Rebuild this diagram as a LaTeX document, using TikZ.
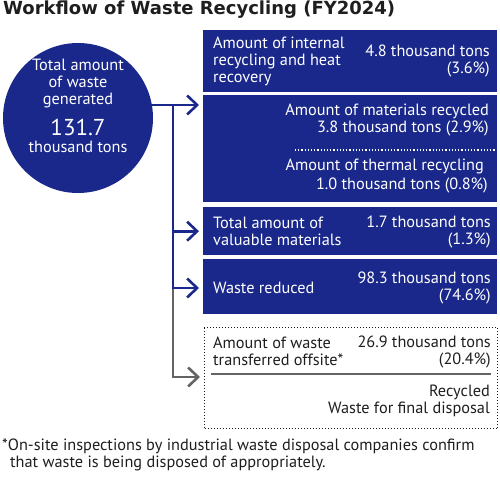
\documentclass[tikz,border=0pt]{standalone}
\usepackage{fontspec}
\setmainfont{PT Sans}
\newfontfamily\titlefont{DejaVu Sans}
\usetikzlibrary{arrows.meta}
\definecolor{navy}{RGB}{25,40,138}
\definecolor{lgray}{RGB}{100,100,100}
\definecolor{ink}{RGB}{30,30,30}
\tikzset{
  bluebox/.style={draw=none, fill=navy, anchor=north west, inner sep=0pt},
  txt/.style={inner sep=0pt, font=\fontsize{16.3}{17}\selectfont},
  wtxt/.style={txt, text=white},
  ktxt/.style={txt, text=ink},
  flow/.style={line width=2.6pt, draw=navy},
  gflow/.style={line width=2.6pt, draw=lgray},
  tip/.style={-{Straight Barb[length=10pt,width=19pt]}},
}
\begin{document}
\begin{tikzpicture}[x=1pt,y=-1pt]
\useasboundingbox (0,0) rectangle (500,477);
% title
\node[anchor=west, inner sep=0pt, font=\titlefont\bfseries\fontsize{18}{20}\selectfont, text=ink] (title) at (3,10) {Workflow of Waste Recycling (FY2024)};
% circle
\node[circle, fill=navy, minimum size=150pt, inner sep=0pt] (circ) at (78,118) {};
\node[wtxt, align=center] (ctxt) at (78,84) {Total amount\\of waste\\generated};
\node[wtxt, align=center, font=\fontsize{23}{24}\selectfont] (cnum) at (78,127) {131.7};
\node[wtxt, align=center] (cunit) at (78,147) {thousand tons};
% boxes
\node[bluebox, minimum width=294pt, minimum height=62pt] (b1) at (203,30) {};
\node[bluebox, minimum width=294pt, minimum height=107pt] (b2) at (203,95) {};
\node[bluebox, minimum width=294pt, minimum height=48pt] (b3) at (203,207) {};
\node[bluebox, minimum width=294pt, minimum height=55pt] (b4) at (203,259) {};
\node[draw=ink, dotted, line width=1pt, anchor=north west, inner sep=0pt, minimum width=293pt, minimum height=101pt] (b5) at (204,327) {};
% box 1 texts
\node[wtxt, anchor=west, align=left] (t1l) at (213,61.5) {Amount of internal\\recycling and heat\\recovery};
\node[wtxt, anchor=east, align=right] (t1r) at (490,60.5) {4.8 thousand tons\\(3.6\%)};
% box 2 texts
\node[wtxt, anchor=east, align=right] (t2a) at (489,120) {Amount of materials recycled\\3.8 thousand tons (2.9\%)};
\coordinate (d0) at (295,150);
\coordinate (d1) at (497,150);
\draw[white, dotted, line width=1.2pt] (d0) -- (d1);
\node[wtxt, anchor=east] (t2b) at (484,166) {Amount of thermal recycling};
\node[wtxt, anchor=east] (t2c) at (488,185) {1.0 thousand tons (0.8\%)};
% box 3
\node[wtxt, anchor=west, align=left] (t3l) at (213,231.5) {Total amount of\\valuable materials};
\node[wtxt, anchor=east, align=right] (t3r) at (491,231.5) {1.7 thousand tons\\(1.3\%)};
% box 4
\node[wtxt, anchor=west] (t4l) at (213,288) {Waste reduced};
\node[wtxt, anchor=east, align=right] (t4r) at (491,287.5) {98.3 thousand tons\\(74.6\%)};
% box 5
\node[ktxt, anchor=west, align=left] (t5l) at (213,351.5) {Amount of waste\\transferred offsite*};
\node[ktxt, anchor=east, align=right] (t5r) at (491,351.5) {26.9 thousand tons\\(20.4\%)};
\coordinate (s0) at (211,374);
\coordinate (s1) at (491,374);
\draw[lgray, line width=1.5pt] (s0) -- (s1);
\node[ktxt, anchor=east, align=right] (t5b) at (490,400.5) {Recycled\\Waste for final disposal};
% footnote
\node[ktxt, anchor=north west, align=left] (fn) at (2,439) {*On-site inspections by industrial waste disposal companies confirm\\\hspace*{8pt}that waste is being disposed of appropriately.};
% connectors
\coordinate (c0) at (150,105);
\coordinate (j) at (173,105);
\coordinate (jb) at (173,290);
\coordinate (jg) at (173,377);
\draw[flow, tip, shorten >=4pt] (c0) -- (b2.west |- c0);
\draw[flow] (j) -- (jb);
\draw[flow, tip, shorten >=4pt] (j |- b3.west) -- (b3.west);
\draw[flow, tip, shorten >=4pt] (173,288) -- (b4.west |- 0,288);
\draw[gflow, tip, shorten >=4pt] ([yshift=1.3pt]jb) -- (jg) -- (b5.west |- jg);
\end{tikzpicture}
\end{document}
